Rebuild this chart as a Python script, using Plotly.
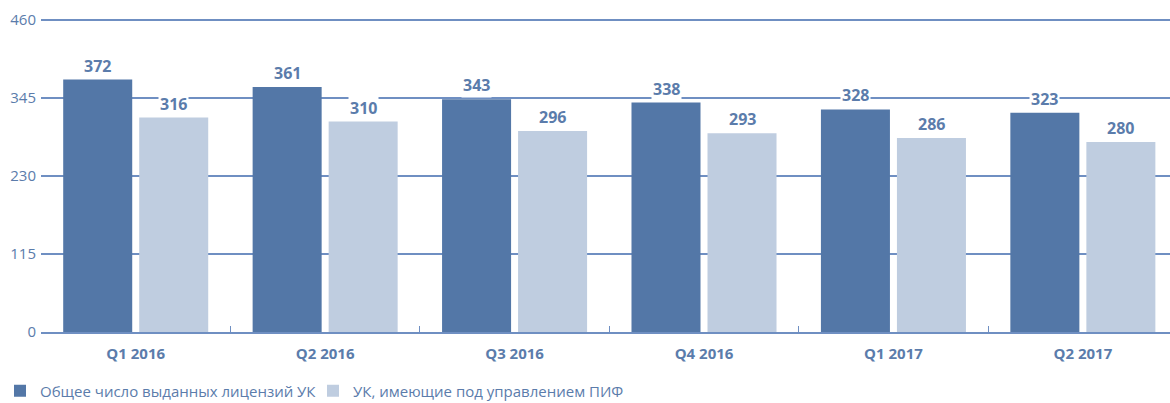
import plotly.graph_objects as go

categories = ["Q1 2016", "Q2 2016", "Q3 2016", "Q4 2016", "Q1 2017", "Q2 2017"]
total_licenses = [372, 361, 343, 338, 328, 323]
with_pif = [316, 310, 296, 293, 286, 280]
series_names = ["Общее число выданных лицензий УК", "УК, имеющие под управлением ПИФ"]
y_ticks = [0, 115, 230, 345, 460]

DARK = "#5377a7"
LIGHT = "#bfcde0"
TEXT = "#5b7cab"
GRID = "#6f8fc2"
FONT = "Open Sans"

fig = go.Figure()
fig.add_trace(go.Bar(x=categories, y=total_licenses, name=series_names[0],
                     marker=dict(color=DARK, line=dict(width=0))))
fig.add_trace(go.Bar(x=categories, y=with_pif, name=series_names[1],
                     marker=dict(color=LIGHT, line=dict(width=0))))

# value labels with white background (cover gridlines)
for cat, v in zip(categories, total_licenses):
    fig.add_annotation(x=cat, y=v, xshift=-38, yshift=14, text=f"<b>{v}</b>",
                       showarrow=False, bgcolor="white", borderpad=1,
                       font=dict(family=FONT, size=16, color=TEXT))
for cat, v in zip(categories, with_pif):
    fig.add_annotation(x=cat, y=v, xshift=38, yshift=14, text=f"<b>{v}</b>",
                       showarrow=False, bgcolor="white", borderpad=1,
                       font=dict(family=FONT, size=16, color=TEXT))

fig.update_layout(
    width=1170, height=403,
    margin=dict(l=41, r=0, t=13, b=71, autoexpand=False),
    paper_bgcolor="white", plot_bgcolor="white",
    barmode="group", bargap=0.1975, bargroupgap=0.092,
    font=dict(family=FONT, color=TEXT),
    showlegend=True,
    legend=dict(orientation="h", xref="container", x=-0.011, xanchor="left",
                yref="container", y=0.03, yanchor="middle",
                entrywidth=268, entrywidthmode="pixels",
                font=dict(family=FONT, size=15, color=TEXT),
                itemclick=False, tracegroupgap=0, bgcolor="rgba(0,0,0,0)"),
    xaxis=dict(range=[-0.5, 5.46], showgrid=False, showline=True, linecolor=GRID,
               linewidth=1.5, ticks="inside", tickson="boundaries", ticklen=6,
               tickcolor=GRID, tickwidth=1, automargin=False, ticklabelstandoff=7,
               tickfont=dict(family=FONT, size=15, color=TEXT),
               tickprefix="<b>", ticksuffix="</b>", fixedrange=True),
    yaxis=dict(range=[0, 470], tickvals=y_ticks, showgrid=True, gridcolor=GRID,
               gridwidth=1.5, zeroline=False, showline=False, ticks="",
               automargin=False, fixedrange=True,
               tickfont=dict(family=FONT, size=15, color=TEXT), ticklabelstandoff=4),
)

fig.write_html("out.html", config={"displayModeBar": False},
               post_script="document.body.style.margin='0';document.body.style.overflow='hidden';")
